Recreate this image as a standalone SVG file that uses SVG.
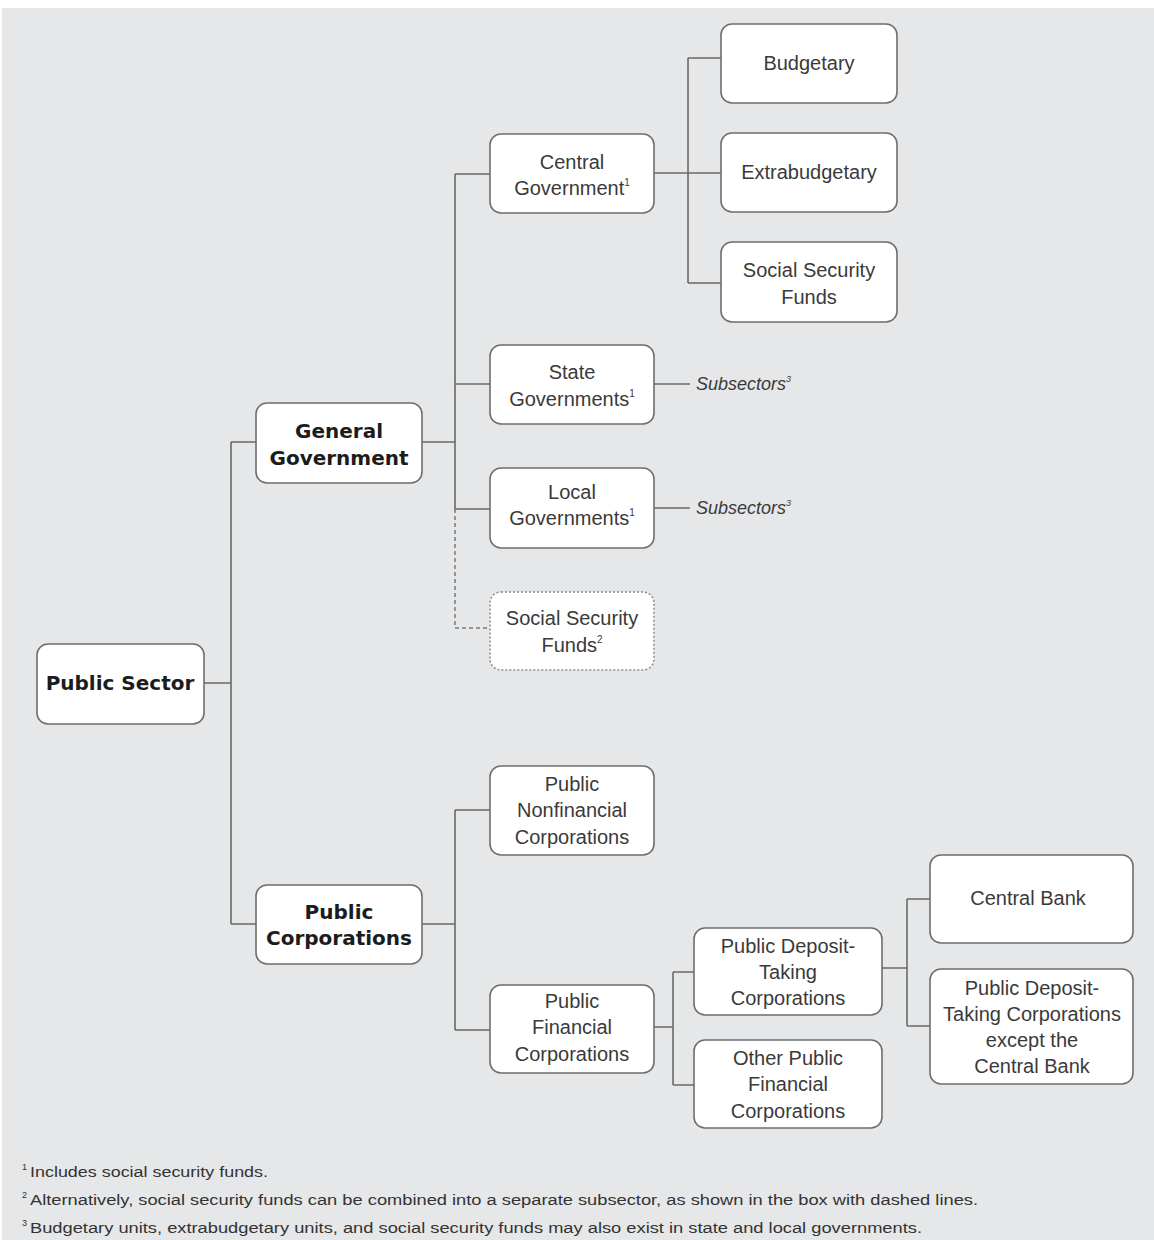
<svg xmlns="http://www.w3.org/2000/svg" width="1154" height="1240" viewBox="0 0 1154 1240">
<style>
.box{fill:#ffffff;stroke:#6e6e6e;stroke-width:1.6}
.dbox{fill:#ffffff;stroke:#8a8a8a;stroke-width:1.5;stroke-dasharray:2 2}
.ln{fill:none;stroke:#6a6a6a;stroke-width:1.6}
.dl{fill:none;stroke:#7a7a7a;stroke-width:1.5;stroke-dasharray:4 3}
.t{font-family:"Liberation Sans",Arial,sans-serif;font-size:20px;fill:#3a3a3a;text-anchor:middle}
.b{font-family:"DejaVu Sans","Liberation Sans",sans-serif;font-weight:bold;font-size:20px;fill:#1c1c1c;text-anchor:middle}
.i{font-family:"Liberation Sans",Arial,sans-serif;font-style:italic;font-size:18px;fill:#3a3a3a}
.f{font-family:"Liberation Sans",Arial,sans-serif;font-size:14px;fill:#333333}
.fs{font-family:"Liberation Sans",Arial,sans-serif;font-size:9px;fill:#333333}
</style>
<rect x="0" y="0" width="1154" height="1240" fill="#ffffff"/>
<rect x="2" y="8" width="1152" height="1232" fill="#e6e7e9"/>

<g id="connectors">
<path class="ln" d="M204,683 H231 M231,442 V924 M231,442 H256 M231,924 H256"/>
<path class="ln" d="M422,442 H455 M455,174 V509 M455,174 H490 M455,384 H490 M455,509 H490"/>
<path class="dl" d="M455,509 V628 H490"/>
<path class="ln" d="M654,173 H721 M688,58 V283 M688,58 H721 M688,283 H721"/>
<path class="ln" d="M654,384 H690 M654,508 H690"/>
<path class="ln" d="M422,924 H455 M455,810 V1030 M455,810 H490 M455,1030 H490"/>
<path class="ln" d="M654,1027 H673 M673,972 V1085 M673,972 H694 M673,1085 H694"/>
<path class="ln" d="M882,968 H907 M907,899 V1026 M907,899 H930 M907,1026 H930"/>
</g>

<g id="public-sector">
<rect class="box" x="37" y="644" width="167" height="80" rx="11"/>
<text class="b" x="120" y="690">Public Sector</text>
</g>

<g id="general-government">
<rect class="box" x="256" y="403" width="166" height="80" rx="11"/>
<text class="b" x="339" y="438">General</text>
<text class="b" x="339" y="465">Government</text>
</g>

<g id="public-corporations">
<rect class="box" x="256" y="885" width="166" height="79" rx="11"/>
<text class="b" x="339" y="919">Public</text>
<text class="b" x="339" y="945">Corporations</text>
</g>

<g id="central-government">
<rect class="box" x="490" y="134" width="164" height="79" rx="11"/>
<text class="t" x="572" y="169">Central</text>
<text class="t" x="572" y="195">Government<tspan font-size="10" dy="-9">1</tspan></text>
</g>

<g id="budgetary">
<rect class="box" x="721" y="24" width="176" height="79" rx="11"/>
<text class="t" x="809" y="70">Budgetary</text>
</g>

<g id="extrabudgetary">
<rect class="box" x="721" y="133" width="176" height="79" rx="11"/>
<text class="t" x="809" y="179">Extrabudgetary</text>
</g>

<g id="social-security-funds-central">
<rect class="box" x="721" y="242" width="176" height="80" rx="11"/>
<text class="t" x="809" y="277">Social Security</text>
<text class="t" x="809" y="304">Funds</text>
</g>

<g id="state-governments">
<rect class="box" x="490" y="345" width="164" height="79" rx="11"/>
<text class="t" x="572" y="379">State</text>
<text class="t" x="572" y="406">Governments<tspan font-size="10" dy="-9">1</tspan></text>
</g>

<g id="state-subsectors">
<text class="i" x="696" y="390">Subsectors<tspan font-size="9" dy="-8">3</tspan></text>
</g>

<g id="local-governments">
<rect class="box" x="490" y="468" width="164" height="80" rx="11"/>
<text class="t" x="572" y="499">Local</text>
<text class="t" x="572" y="525">Governments<tspan font-size="10" dy="-9">1</tspan></text>
</g>

<g id="local-subsectors">
<text class="i" x="696" y="514">Subsectors<tspan font-size="9" dy="-8">3</tspan></text>
</g>

<g id="social-security-funds-separate">
<rect class="dbox" x="490" y="592" width="164" height="78" rx="11"/>
<text class="t" x="572" y="625">Social Security</text>
<text class="t" x="572" y="652">Funds<tspan font-size="10" dy="-9">2</tspan></text>
</g>

<g id="public-nonfinancial-corporations">
<rect class="box" x="490" y="766" width="164" height="89" rx="11"/>
<text class="t" x="572" y="791">Public</text>
<text class="t" x="572" y="817">Nonfinancial</text>
<text class="t" x="572" y="844">Corporations</text>
</g>

<g id="public-financial-corporations">
<rect class="box" x="490" y="985" width="164" height="88" rx="11"/>
<text class="t" x="572" y="1008">Public</text>
<text class="t" x="572" y="1034">Financial</text>
<text class="t" x="572" y="1061">Corporations</text>
</g>

<g id="public-deposit-taking-corporations">
<rect class="box" x="694" y="928" width="188" height="87" rx="11"/>
<text class="t" x="788" y="953">Public Deposit-</text>
<text class="t" x="788" y="979">Taking</text>
<text class="t" x="788" y="1005">Corporations</text>
</g>

<g id="other-public-financial-corporations">
<rect class="box" x="694" y="1040" width="188" height="88" rx="11"/>
<text class="t" x="788" y="1065">Other Public</text>
<text class="t" x="788" y="1091">Financial</text>
<text class="t" x="788" y="1118">Corporations</text>
</g>

<g id="central-bank">
<rect class="box" x="930" y="855" width="203" height="88" rx="11"/>
<text class="t" x="1028" y="905">Central Bank</text>
</g>

<g id="pdtc-except-central-bank">
<rect class="box" x="930" y="969" width="203" height="115" rx="11"/>
<text class="t" x="1032" y="995">Public Deposit-</text>
<text class="t" x="1032" y="1021">Taking Corporations</text>
<text class="t" x="1032" y="1047">except the</text>
<text class="t" x="1032" y="1073">Central Bank</text>
</g>

<g id="footnotes">
<text class="fs" x="22" y="1170">1</text>
<text class="f" x="30" y="1177" textLength="238" lengthAdjust="spacingAndGlyphs">Includes social security funds.</text>
<text class="fs" x="22" y="1198">2</text>
<text class="f" x="30" y="1205" textLength="948" lengthAdjust="spacingAndGlyphs">Alternatively, social security funds can be combined into a separate subsector, as shown in the box with dashed lines.</text>
<text class="fs" x="22" y="1226">3</text>
<text class="f" x="30" y="1233" textLength="892" lengthAdjust="spacingAndGlyphs">Budgetary units, extrabudgetary units, and social security funds may also exist in state and local governments.</text>
</g>
</svg>
